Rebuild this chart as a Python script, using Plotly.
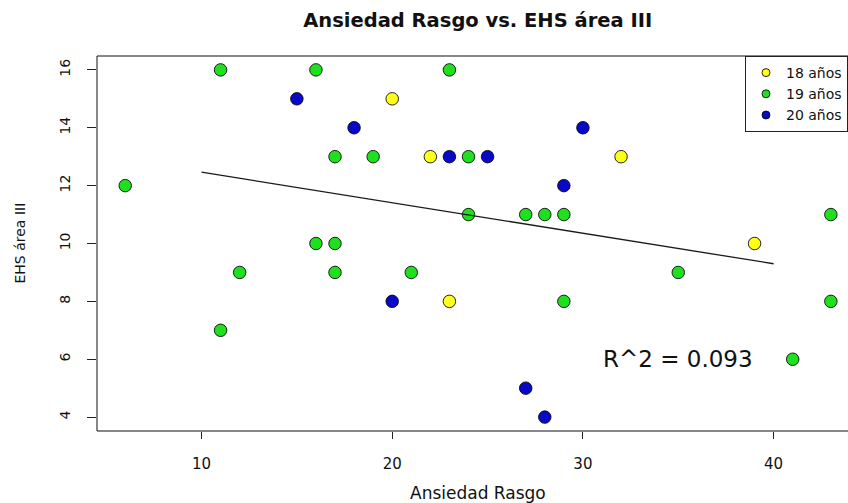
import numpy as np
import plotly.graph_objects as go

# ---- data ----
groups = ["18 años", "19 años", "20 años"]
x18 = [20, 22, 32, 39, 23]
y18 = [15, 13, 13, 10, 8]
x19 = [11, 16, 23, 17, 19, 24, 6, 24, 27, 28, 29, 16, 17, 12, 17, 21, 35, 29, 43, 43, 11, 41]
y19 = [16, 16, 16, 13, 13, 13, 12, 11, 11, 11, 11, 10, 10, 9, 9, 9, 9, 8, 11, 8, 7, 6]
x20 = [15, 18, 30, 23, 25, 29, 20, 27, 28]
y20 = [15, 14, 14, 13, 13, 12, 8, 5, 4]
x_ticks = [10, 20, 30, 40]
y_ticks = [4, 6, 8, 10, 12, 14, 16]
fit_span = [10, 40]
r2_label = "R^2 = 0.093"
r2_pos = (35, 6)

colors = ["#FFFF1A", "#1FE01F", "#0808C8"]
FONT = "DejaVu Sans"

fig = go.Figure()

series = [(x18, y18), (x19, y19), (x20, y20)]
for (xs, ys), name, col in zip(series, groups, colors):
    fig.add_trace(go.Scatter(
        x=xs, y=ys, mode="markers", name=name, showlegend=False,
        marker=dict(size=12.5, color=col, line=dict(color="rgba(0,0,0,0.85)", width=1)),
        hoverinfo="x+y",
    ))

# regression line computed from all points
all_x = np.array(x18 + x19 + x20, dtype=float)
all_y = np.array(y18 + y19 + y20, dtype=float)
slope, intercept = np.polyfit(all_x, all_y, 1)
fx = np.array(fit_span, dtype=float)
fig.add_trace(go.Scatter(x=fx, y=slope * fx + intercept, mode="lines",
                         line=dict(color="#1a1a1a", width=1.3),
                         showlegend=False, hoverinfo="skip"))

# legend-only entries (smaller symbols like the reference legend)
for name, col in zip(groups, colors):
    fig.add_trace(go.Scatter(
        x=[None], y=[None], mode="markers", name=name,
        marker=dict(size=8, color=col, line=dict(color="rgba(0,0,0,0.85)", width=1)),
    ))

L, T, B = 97, 56, 72
fig.update_layout(
    width=848, height=503,
    margin=dict(l=L, r=0, t=T, b=B, autoexpand=False),
    paper_bgcolor="white", plot_bgcolor="white",
    font=dict(family=FONT, color="#111"),
    title=dict(text="Ansiedad Rasgo vs. EHS área III", x=0.507, xref="paper", xanchor="center",
               y=1 - 20 / 503, yref="container", yanchor="middle",
               font=dict(family=FONT, size=19.5, weight="bold", color="#111")),
    xaxis=dict(range=[4.52, 43.9], tickvals=x_ticks, ticks="outside", ticklen=7, tickwidth=1,
               tickcolor="#222", showgrid=False, zeroline=False, showline=False,
               tickfont=dict(family=FONT, size=15, color="#111"), ticklabelstandoff=12),
    yaxis=dict(range=[3.52, 16.48], tickvals=y_ticks, ticks="outside", ticklen=9, tickwidth=1,
               tickcolor="#222", showgrid=False, zeroline=False, showline=False,
               tickangle=-90, tickfont=dict(family=FONT, size=14, color="#111"),
               ticklabelstandoff=11),
    legend=dict(x=1, xanchor="right", y=1, yanchor="top", bordercolor="#222", borderwidth=1,
                bgcolor="white", font=dict(family=FONT, size=14, color="#111"),
                tracegroupgap=0, itemsizing="trace"),
    shapes=[dict(type="rect", xref="paper", yref="paper", x0=0, x1=1.02, y0=0, y1=1,
                 line=dict(color="#111", width=1), layer="above")],
    annotations=[
        dict(text="Ansiedad Rasgo", xref="paper", yref="paper", x=0.507, y=-62 / 375,
             xanchor="center", yanchor="middle", showarrow=False,
             font=dict(family=FONT, size=17, color="#111")),
        dict(text="EHS área III", xref="paper", yref="paper", x=-78 / 751, y=0.5,
             xanchor="center", yanchor="middle", showarrow=False, textangle=-90,
             font=dict(family=FONT, size=14, color="#111")),
        dict(text=r2_label, xref="x", yref="y", x=r2_pos[0], y=r2_pos[1],
             xanchor="center", yanchor="middle", showarrow=False,
             font=dict(family=FONT, size=23, color="#111")),
    ],
)

fig.write_html("out.html")
